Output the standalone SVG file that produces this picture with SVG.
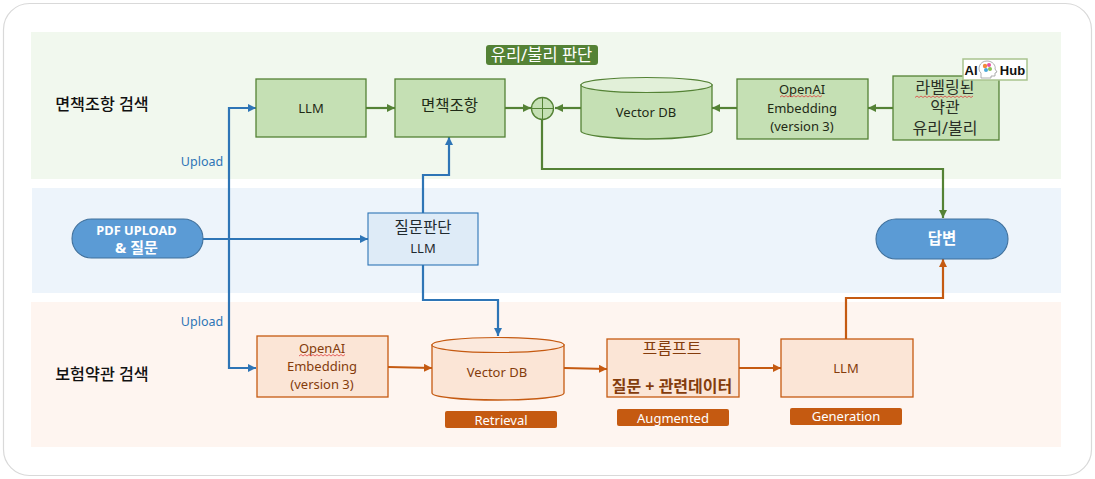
<svg xmlns="http://www.w3.org/2000/svg" width="1095" height="479" viewBox="0 0 1095 479">
<style>
text{font-family:"Noto Sans","Noto Sans CJK KR",sans-serif;text-anchor:middle}
.g{fill:#c5e0b4;stroke:#548235;stroke-width:1.3}
.gt{fill:#e2f0d9;stroke:#548235;stroke-width:1.2}
.o{fill:#fbe5d6;stroke:#c55a11;stroke-width:1.3}
.ot{fill:#fbe9dd;stroke:#c55a11;stroke-width:1.2}
.bx{fill:#deebf7;stroke:#2e75b6;stroke-width:1.1}
.pill{fill:#5b9bd5;stroke:#41719c;stroke-width:1.1}
.tg{font-size:13px;fill:#1f2a16}
.to{font-size:13px;fill:#843c0c}
.tag{fill:#c55a11}
.tagt{font-size:13px;fill:#fff}
.up{font-size:12.500px;fill:#2e75b6}
.head{font-size:16.200px;font-weight:500;fill:#111}
.cg,.co,.cb{fill:none;stroke-width:2.200}
.cg{stroke:#548235}.co{stroke:#c55a11}.cb{stroke:#2e75b6}
.sq{fill:none;stroke:#e04040;stroke-width:.8}
.kg{font-size:16px;fill:#2a2f26}
</style>
<defs>
<marker id="ag" markerUnits="userSpaceOnUse" markerWidth="9" markerHeight="9" refX="8" refY="4" orient="auto"><path d="M0 0L8 4L0 8z" fill="#548235"/></marker>
<marker id="ao" markerUnits="userSpaceOnUse" markerWidth="9" markerHeight="9" refX="8" refY="4" orient="auto"><path d="M0 0L8 4L0 8z" fill="#c55a11"/></marker>
<marker id="ab" markerUnits="userSpaceOnUse" markerWidth="9" markerHeight="9" refX="8" refY="4" orient="auto"><path d="M0 0L8 4L0 8z" fill="#2e75b6"/></marker>
</defs>
<rect x="3.500" y="3.500" width="1088" height="472" rx="26" fill="#fff" stroke="#d9d9d9" stroke-width="1.200"/>
<rect x="31" y="32" width="1030" height="147" fill="#f1f8ee"/>
<rect x="32" y="188" width="1029" height="105" fill="#edf4fb"/>
<rect x="31" y="302" width="1030" height="145" fill="#fef5f0"/>
<text class="head" x="102" y="110">면책조항 검색</text>
<text class="head" x="102" y="380">보험약관 검색</text>
<text class="up" x="202" y="166">Upload</text>
<text class="up" x="202" y="326">Upload</text>
<g id="connectors">
<path class="cb" d="M203 239H368" marker-end="url(#ab)"/>
<path class="cb" d="M229 239V108H256" marker-end="url(#ab)"/>
<path class="cb" d="M229 239V368H256" marker-end="url(#ab)"/>
<path class="cb" d="M423 213V175H449V137" marker-end="url(#ab)"/>
<path class="cb" d="M423 265V300H498V336" marker-end="url(#ab)"/>
<path class="cg" d="M366 108H395" marker-end="url(#ag)"/>
<path class="cg" d="M505 108H531" marker-end="url(#ag)"/>
<path class="cg" d="M581 108H555" marker-end="url(#ag)"/>
<path class="cg" d="M737 108H712" marker-end="url(#ag)"/>
<path class="cg" d="M893 108H868" marker-end="url(#ag)"/>
<path class="cg" d="M542 120V169H943V218" marker-end="url(#ag)"/>
<path class="co" d="M388 367L432 368" marker-end="url(#ao)"/>
<path class="co" d="M564 368L607 369" marker-end="url(#ao)"/>
<path class="co" d="M739 368H781" marker-end="url(#ao)"/>
<path class="co" d="M846 339V298H943V259" marker-end="url(#ao)"/>
</g>
<g id="tag-judge"><rect x="486" y="45" width="112" height="20" rx="3" fill="#548235"/><text x="541.500" y="60.500" style="font-size:16.500px;fill:#fff">유리/불리 판단</text></g>
<g id="llm-top"><rect class="g" x="256" y="79" width="110" height="58"/><text class="tg" x="311" y="113">LLM</text></g>
<g id="exempt"><rect class="g" x="395" y="79" width="110" height="58"/><text x="449.500" y="111" style="font-size:15.500px;fill:#1f2a16">면책조항</text></g>
<g id="sum"><circle class="g" cx="542.500" cy="108.500" r="11"/><path d="M531.500 108.500H553.500M542.500 97.500V119.500" fill="none" stroke="#548235" stroke-width="1"/></g>
<g id="db-top"><path class="g" d="M581 85V131C581 135 610 139 646.500 139S712 135 712 131V85z"/><ellipse class="gt" cx="646.500" cy="85" rx="65.500" ry="7.500"/><text class="tg" x="646" y="117">Vector DB</text></g>
<g id="embed-top"><rect class="g" x="737" y="79" width="131" height="60"/><text class="tg" x="802" y="94">OpenAI</text><path class="sq" d="M780 97l2-1.500l2 1.500l2-1.500l2 1.500l2-1.500l2 1.500l2-1.500l2 1.500l2-1.500l2 1.500l2-1.500l2 1.500l2-1.500l2 1.500l2-1.500l2 1.500l2-1.500l2 1.500l2-1.500l2 1.500l2-1.500"/><text class="tg" x="802" y="113">Embedding</text><text class="tg" x="802" y="131">(version 3)</text></g>
<g id="labeled"><rect class="g" x="893" y="76" width="106" height="64"/><text class="kg" x="945" y="92.500">라벨링된</text><path class="sq" d="M915 97.500l2-1.500l2 1.500l2-1.500l2 1.500l2-1.500l2 1.500l2-1.500l2 1.500l2-1.500l2 1.500l2-1.500l2 1.500l2-1.500l2 1.500l2-1.500l2 1.500l2-1.500l2 1.500l2-1.500l2 1.500l2-1.500l2 1.500l2-1.500l2 1.500l2-1.500l2 1.500l2-1.500l2 1.500l2-1.500"/><text class="kg" x="945" y="113">약관</text><text class="kg" x="945" y="133.500">유리/불리</text></g>
<g id="aihub"><rect x="963" y="59" width="64" height="21" fill="#fff" stroke="#a9c48f" stroke-width="1.500"/><text x="971" y="74.500" style="font-family:'Liberation Sans',sans-serif;font-size:13px;font-weight:700;fill:#111">AI</text><path d="M981 78V73C977 70 979 61 987 61C993 61 996 66 995 69L997 72L995 73V76H991V78z" fill="#fff" stroke="#999" stroke-width=".8"/><circle cx="985" cy="66" r="2.200" fill="#f08a3c"/><circle cx="989" cy="65" r="2" fill="#e84fa0"/><circle cx="986" cy="70" r="2" fill="#4aa8d8"/><circle cx="990" cy="69" r="2" fill="#8cc152"/><text x="1012.500" y="74.500" style="font-family:'Liberation Sans',sans-serif;font-size:13px;font-weight:700;fill:#111">Hub</text></g>
<g id="pdf"><rect class="pill" x="72" y="219" width="131" height="39" rx="19.500"/><text x="136.500" y="235" style="font-size:12.800px;font-weight:700;fill:#fff">PDF UPLOAD</text><text x="136.500" y="253" style="font-size:15px;font-weight:700;fill:#fff">&amp; 질문</text></g>
<g id="judge"><rect class="bx" x="368" y="213" width="110" height="52"/><text x="423" y="233" style="font-size:15.500px;fill:#1f2a30">질문판단</text><text x="423" y="253" style="font-size:13px;fill:#1f2a30">LLM</text></g>
<g id="answer"><rect class="pill" x="876" y="219" width="132" height="40" rx="20"/><text x="942" y="244" style="font-size:15.500px;font-weight:700;fill:#fff">답변</text></g>
<g id="embed-bot"><rect class="o" x="257" y="336" width="131" height="61"/><text class="to" x="322" y="353">OpenAI</text><path class="sq" d="M299 356l2-1.500l2 1.500l2-1.500l2 1.500l2-1.500l2 1.500l2-1.500l2 1.500l2-1.500l2 1.500l2-1.500l2 1.500l2-1.500l2 1.500l2-1.500l2 1.500l2-1.500l2 1.500l2-1.500l2 1.500l2-1.500l2 1.500l2-1.500"/><text class="to" x="322" y="371">Embedding</text><text class="to" x="322" y="389">(version 3)</text></g>
<g id="db-bot"><path class="o" d="M432 345V393C432 397 461 400 498 400S564 397 564 393V345z"/><ellipse class="ot" cx="498" cy="345" rx="66" ry="7.500"/><text class="to" x="497" y="377">Vector DB</text></g>
<rect class="tag" x="445" y="411" width="112" height="17" rx="2"/><text class="tagt" x="501" y="424.500">Retrieval</text>
<g id="prompt"><rect class="o" x="607" y="339" width="132" height="58"/><text x="672" y="354" style="font-size:16px;fill:#843c0c">프롬프트</text><text x="672" y="392" style="font-size:16px;font-weight:700;fill:#843c0c">질문 + 관련데이터</text></g>
<rect class="tag" x="617" y="409" width="112" height="17" rx="2"/><text class="tagt" x="673" y="423">Augmented</text>
<g id="llm-bot"><rect class="o" x="781" y="339" width="132" height="58"/><text class="to" x="846" y="373">LLM</text></g>
<rect class="tag" x="790" y="408" width="112" height="17" rx="2"/><text class="tagt" x="846" y="421">Generation</text>
</svg>
